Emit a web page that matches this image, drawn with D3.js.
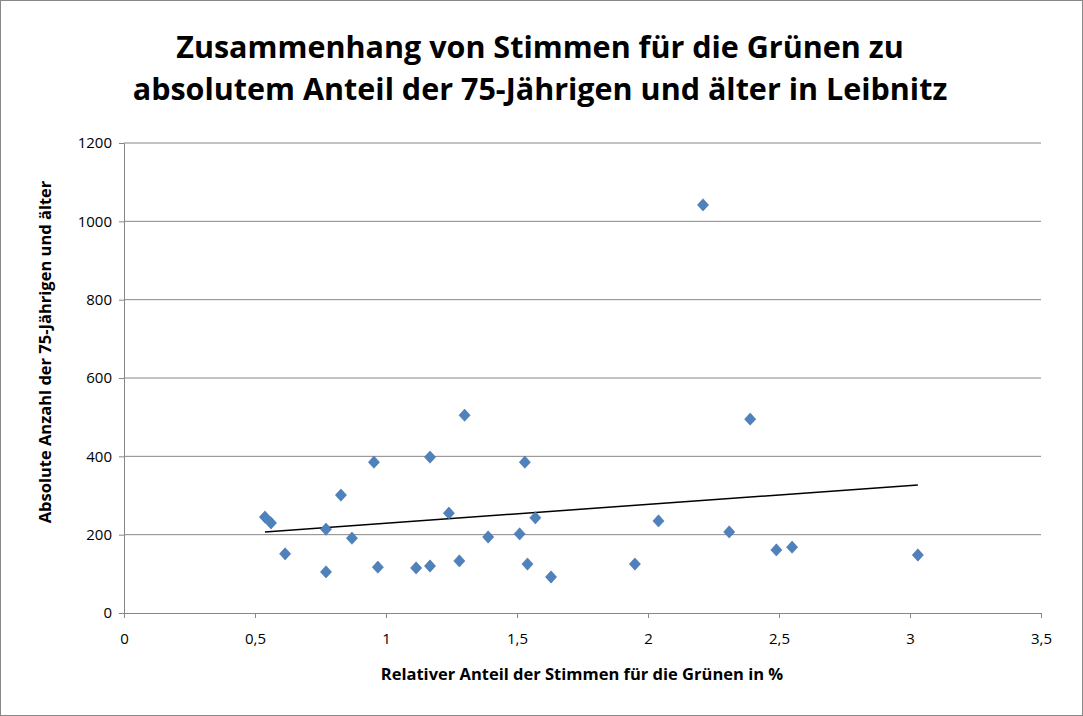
<!DOCTYPE html>
<html><head><meta charset="utf-8">
<script src="https://cdn.jsdelivr.net/npm/d3@7"></script>
<style>body{margin:0;background:#fff;font-family:"Open Sans","Liberation Sans",sans-serif}</style>
</head><body><svg id="c" width="1083" height="716"></svg>
<script>
const xVals=[0.538,0.561,0.615,0.771,0.771,0.828,0.87,0.954,0.969,1.115,1.168,1.168,1.24,1.28,1.30,1.39,1.51,1.53,1.54,1.57,1.63,1.95,2.04,2.21,2.31,2.39,2.49,2.55,3.03];
const yVals=[245,230,151,214,105,301,191,385,117,115,398,120,255,133,505,194,202,385,125,243,92,125,235,1042,207,495,161,168,148];
const xTicks=[0,0.5,1,1.5,2,2.5,3,3.5];
const yTicks=[0,200,400,600,800,1000,1200];
const titleLines=["Zusammenhang von Stimmen für die Grünen zu","absolutem Anteil der 75-Jährigen und älter in Leibnitz"];
const fmt=v=>String(v).replace(".",",");
const svg=d3.select("#c");
svg.append("rect").attr("x",0.5).attr("y",0.5).attr("width",1082).attr("height",715).attr("fill","#fff").attr("stroke","#888");
const x=d3.scaleLinear().domain([0,3.5]).range([124,1041]);
const y=d3.scaleLinear().domain([0,1200]).range([613,143]);
svg.append("g").selectAll("line").data(yTicks.slice(1)).join("line")
 .attr("x1",124).attr("x2",1041).attr("y1",d=>y(d)).attr("y2",d=>y(d)).attr("stroke","#868686");
const xa=svg.append("g").attr("transform","translate(0,613)").call(d3.axisBottom(x).tickValues(xTicks).tickFormat(fmt).tickSize(5));
const ya=svg.append("g").attr("transform","translate(124,0)").call(d3.axisLeft(y).tickValues(yTicks).tickFormat(d=>String(d)).tickSize(5));
[xa,ya].forEach(a=>{a.selectAll("path,line").attr("stroke","#868686");a.selectAll("text").attr("font-size",15).attr("fill","#000").attr("font-family","Open Sans, sans-serif");});
xa.selectAll("text").attr("dy","1.5em");
ya.selectAll("text").attr("x",-12);
const n=xVals.length,mx=d3.mean(xVals),my=d3.mean(yVals);
const b=d3.sum(xVals.map((v,i)=>(v-mx)*(yVals[i]-my)))/d3.sum(xVals.map(v=>(v-mx)**2));
const a=my-b*mx;
const x0=d3.min(xVals),x1=d3.max(xVals);
svg.append("line").attr("x1",x(x0)).attr("x2",x(x1)).attr("y1",y(a+b*x0)).attr("y2",y(a+b*x1)).attr("stroke","#000").attr("stroke-width",1.5);
svg.append("g").selectAll("path").data(xVals.map((v,i)=>[v,yVals[i]])).join("path")
 .attr("d",d3.symbol(d3.symbolDiamond2,80)).attr("transform",d=>`translate(${x(d[0])},${y(d[1])}) scale(1,1.1)`)
 .attr("fill","#4f81bd").attr("stroke","#3f6fa8").attr("stroke-width",0.5);
svg.append("text").attr("x",540).attr("text-anchor","middle").attr("font-weight","bold").attr("font-size",30.5)
 .selectAll("tspan").data(titleLines).join("tspan").attr("x",540).attr("y",(d,i)=>58+i*42).text(d=>d);
svg.append("text").attr("x",582).attr("y",680).attr("text-anchor","middle").attr("font-weight","bold").attr("font-size",16.5).text("Relativer Anteil der Stimmen für die Grünen in %");
svg.append("text").attr("transform","translate(51,352) rotate(-90)").attr("text-anchor","middle").attr("font-weight","bold").attr("font-size",16.5).text("Absolute Anzahl der 75-Jährigen und älter");
</script></body></html>
